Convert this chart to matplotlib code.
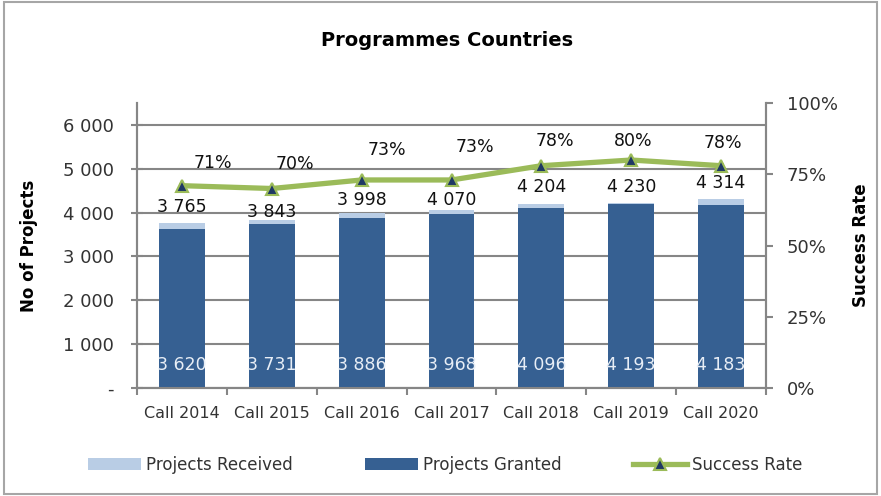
import numpy as np
import matplotlib.pyplot as plt
from matplotlib.ticker import FixedLocator, FuncFormatter, PercentFormatter

# ── data ─────────────────────────────────────────────────────────────────────
calls = ["Call 2014", "Call 2015", "Call 2016", "Call 2017",
         "Call 2018", "Call 2019", "Call 2020"]
received = [3765, 3843, 3998, 4070, 4204, 4230, 4314]
granted = [3620, 3731, 3886, 3968, 4096, 4193, 4183]
success = [0.71, 0.70, 0.73, 0.73, 0.78, 0.80, 0.78]

C_REC = "#B9CDE5"
C_GRA = "#366092"
C_LINE = "#9BBB59"
C_MARK = "#1F3864"
C_AX = "#868686"
C_TXT = "#333333"

# label nudges (points) to mimic the hand-placed Excel labels
rec_dy = [11.5, 5.4, 9.4, 6.8, 12.2, 11.2, 11.5]
pct_dx = [22, 17, 18, 17, 10, 1.5, 1.5]
pct_dy = [16, 18, 21.6, 23.8, 18, 13.7, 16.6]


def fmt_thousands(v, pos=None):
    if v == 0:
        return "-"
    return f"{int(v):,}".replace(",", " ")


fig = plt.figure(figsize=(8.81, 4.96), dpi=100)
ax = fig.add_axes([0.1555, 0.2177, 0.714, 0.5746])
ax2 = ax.twinx()

x = np.arange(len(calls))
w = 0.51

b_rec = ax.bar(x, received, w, color=C_REC, zorder=2, label="Projects Received")
b_gra = ax.bar(x, granted, w, color=C_GRA, zorder=3, label="Projects Granted")

for i, (r, g) in enumerate(zip(received, granted)):
    ax.annotate(fmt_thousands(r), (x[i], r), xytext=(0, rec_dy[i]),
                textcoords="offset points", ha="center", va="center",
                fontsize=12.5, color="#111111", zorder=5)
    t = ax.text(x[i], 530, fmt_thousands(g), ha="center", va="center",
                fontsize=12.5, color="#E8EEF6", zorder=4)
    t.set_clip_path(b_gra[i])

ax.set_xlim(-0.5, len(calls) - 0.5)
ax.set_ylim(0, 6500)
ax.yaxis.set_major_locator(FixedLocator(np.arange(0, 6001, 1000)))
ax.yaxis.set_major_formatter(FuncFormatter(fmt_thousands))
ax.grid(axis="y", color=C_AX, linewidth=1.5, zorder=0)
ax.set_axisbelow(True)

ax.set_xticks(x)
ax.set_xticklabels(calls)
ax.set_xticks(np.arange(-0.5, len(calls)), minor=True)
ax.tick_params(axis="x", which="major", length=0, labelsize=11.5,
               labelcolor=C_TXT, pad=13)
ax.tick_params(axis="x", which="minor", length=5, width=1.5, color=C_AX,
               direction="out")
ax.tick_params(axis="y", length=9, width=1.5, color=C_AX, direction="inout",
               labelsize=13, labelcolor=C_TXT, pad=12)

ln, = ax2.plot(x, success, color=C_LINE, linewidth=3.8, marker="^",
               markersize=9, markerfacecolor=C_MARK, markeredgecolor=C_LINE,
               markeredgewidth=1.5, zorder=6, label="Success Rate")
for i, s in enumerate(success):
    ax2.annotate(f"{s:.0%}", (x[i], s), xytext=(pct_dx[i], pct_dy[i]),
                 textcoords="offset points", ha="center", va="center",
                 fontsize=12.5, color="#111111")
ax2.set_ylim(0, 1)
ax2.yaxis.set_major_locator(FixedLocator([0, 0.25, 0.5, 0.75, 1.0]))
ax2.yaxis.set_major_formatter(PercentFormatter(1.0, decimals=0))
ax2.tick_params(axis="y", length=5, width=1.5, color=C_AX, direction="out",
                labelsize=13, labelcolor=C_TXT, pad=10)
ax2.set_zorder(ax.get_zorder() + 1)
ax2.patch.set_visible(False)

for a in (ax, ax2):
    a.spines["top"].set_visible(False)
    for s in ("left", "right", "bottom"):
        a.spines[s].set_color(C_AX)
        a.spines[s].set_linewidth(1.5)

ax.set_ylabel("No of Projects", fontsize=12, fontweight="bold", labelpad=18)
ax2.set_ylabel("Success Rate", fontsize=12, fontweight="bold", labelpad=10)

fig.text(0.508, 0.918, "Programmes Countries", ha="center", va="center",
         fontsize=14, fontweight="bold")

fig.legend([b_rec, b_gra, ln], ["Projects Received", "Projects Granted", "Success Rate"],
           loc="center", bbox_to_anchor=(0.505, 0.063), ncol=3, frameon=False,
           fontsize=12, handlelength=3.2, handletextpad=0.3, columnspacing=4.3,
           labelcolor=C_TXT)

# grey outer frame
fig.patches.append(plt.Rectangle((0.004, 0.004), 0.992, 0.992, transform=fig.transFigure,
                                 fill=False, edgecolor="#A6A6A6", linewidth=1.5))

fig.savefig("out.png", dpi=100)
